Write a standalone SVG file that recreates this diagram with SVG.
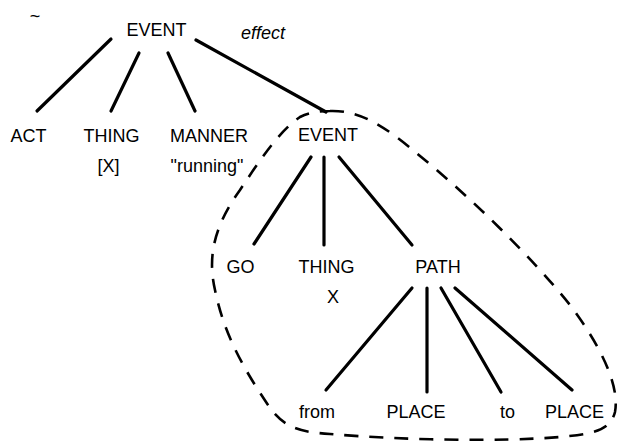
<svg xmlns="http://www.w3.org/2000/svg" width="620" height="444" viewBox="0 0 620 444">
<style>
text{font-family:"Liberation Sans",Arial,sans-serif;font-size:18px;fill:#000;text-anchor:middle}
.it{font-style:italic;text-anchor:start}
.edge{stroke:#000;stroke-width:3.2;stroke-linecap:round;fill:none}
.loop{stroke:#000;stroke-width:2.6;fill:none;stroke-dasharray:14 11}
</style>
<rect width="620" height="444" fill="#fff"/>
<g id="connectors">
<line class="edge" x1="111" y1="39" x2="37" y2="111"/>
<line class="edge" x1="139" y1="53" x2="111" y2="111"/>
<line class="edge" x1="168" y1="53" x2="195" y2="111"/>
<line class="edge" x1="196" y1="40" x2="326" y2="112"/>
<line class="edge" x1="311" y1="157" x2="254" y2="244"/>
<line class="edge" x1="324" y1="157" x2="324" y2="245"/>
<line class="edge" x1="339" y1="157" x2="412" y2="245"/>
<line class="edge" x1="412" y1="288" x2="326" y2="390"/>
<line class="edge" x1="427" y1="288" x2="427" y2="392"/>
<line class="edge" x1="441" y1="288" x2="501" y2="392"/>
<line class="edge" x1="455" y1="288" x2="572" y2="390"/>
</g>
<g id="loop">
<path class="loop" d="M 330 111 C 360 110, 385 126, 420 156 C 470 197, 530 255, 570 305 C 600 345, 620 385, 615 412 C 610 432, 590 434, 560 437 C 500 442, 400 440, 330 434 C 300 432, 285 428, 270 408 C 250 378, 225 340, 215 290 C 207 255, 215 225, 240 190 C 260 160, 280 130, 300 117 C 310 112, 320 111, 330 111 Z"/>
</g>
<g id="mark"><text x="35" y="22">~</text></g>
<g id="event-top"><text x="156.5" y="36">EVENT</text></g>
<g id="effect-label"><text class="it" x="241" y="39">effect</text></g>
<g id="act"><text x="28.5" y="142">ACT</text></g>
<g id="thing1"><text x="111.5" y="142">THING</text><text x="108.5" y="172">[X]</text></g>
<g id="manner"><text x="209" y="142">MANNER</text><text x="207" y="172">"running"</text></g>
<g id="event2"><text x="328" y="141">EVENT</text></g>
<g id="go"><text x="240.5" y="273">GO</text></g>
<g id="thing2"><text x="326.5" y="273">THING</text><text x="333" y="303">X</text></g>
<g id="path"><text x="438" y="273">PATH</text></g>
<g id="from"><text x="317" y="418">from</text></g>
<g id="place1"><text x="416" y="418">PLACE</text></g>
<g id="to"><text x="507.5" y="418">to</text></g>
<g id="place2"><text x="574.5" y="418">PLACE</text></g>
</svg>
